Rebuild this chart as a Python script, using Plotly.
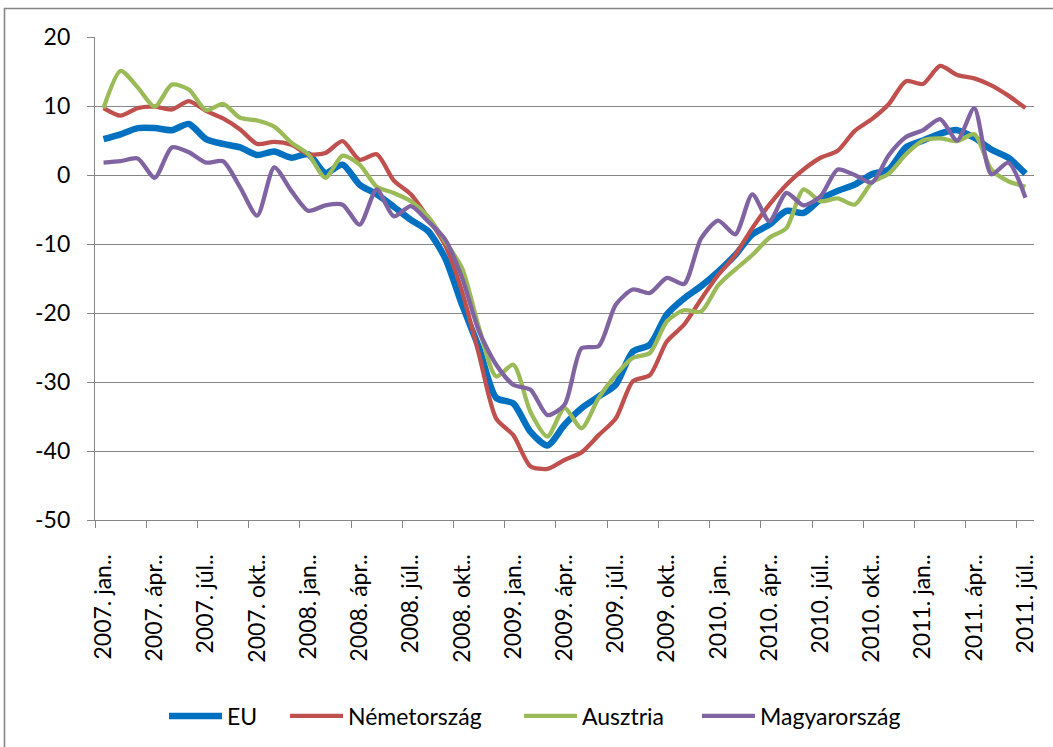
import plotly.graph_objects as go

years = ["2007", "2008", "2009", "2010", "2011"]
month_names = ["jan", "febr", "márc", "ápr", "máj", "jún", "júl", "aug", "szept", "okt", "nov", "dec"]
categories = [f"{y}. {m}.." for y in years for m in month_names][:55]

eu = [5.2, 5.9, 6.8, 6.8, 6.5, 7.4, 5.2, 4.5, 4.0, 2.9, 3.4, 2.5, 3.0, 0.3, 1.5, -1.4, -2.8, -4.6,
      -6.5, -8.1, -12.0, -18.8, -25.1, -32.3, -33.1, -37.2, -39.2, -36.2, -33.8, -32.1, -30.4,
      -25.6, -24.6, -20.2, -17.9, -16.1, -14.0, -11.6, -8.6, -7.2, -5.2, -5.5, -3.5, -2.3, -1.4,
      0.1, 0.8, 4.0, 5.0, 6.0, 6.5, 5.4, 3.7, 2.5, 0.2]
nemetorszag = [9.7, 8.6, 9.7, 9.9, 9.5, 10.7, 9.3, 8.2, 6.6, 4.5, 4.8, 4.4, 3.0, 3.2, 4.9, 2.2, 3.0,
               -0.8, -2.8, -6.2, -10.1, -16.9, -26.1, -35.3, -37.7, -42.2, -42.6, -41.3, -40.2,
               -37.7, -35.3, -29.9, -29.0, -24.1, -21.7, -18.0, -14.5, -11.6, -7.7, -4.3, -1.4,
               0.8, 2.5, 3.5, 6.4, 8.1, 10.3, 13.6, 13.2, 15.8, 14.5, 14.0, 13.0, 11.5, 9.7]
ausztria = [9.7, 15.1, 12.7, 9.9, 13.1, 12.4, 9.4, 10.3, 8.3, 7.9, 7.0, 4.7, 3.0, -0.4, 2.8, 1.5,
            -1.7, -2.6, -3.8, -6.0, -9.6, -13.5, -22.2, -29.2, -27.5, -34.3, -37.9, -33.8, -36.7,
            -32.3, -29.0, -26.5, -25.8, -21.2, -19.6, -19.8, -16.0, -13.7, -11.6, -9.1, -7.7,
            -2.1, -3.8, -3.4, -4.3, -1.1, 0.2, 3.0, 5.0, 5.3, 4.9, 5.9, 0.8, -0.9, -1.7]
magyarorszag = [1.8, 2.0, 2.4, -0.4, 4.0, 3.3, 1.8, 2.0, -1.8, -5.9, 1.1, -2.3, -5.2, -4.4, -4.3,
                -7.2, -2.1, -6.0, -4.5, -6.7, -9.3, -14.9, -22.7, -27.5, -30.4, -31.1, -34.8,
                -33.3, -25.1, -24.8, -18.8, -16.6, -17.1, -14.9, -15.8, -9.2, -6.6, -8.6, -2.8,
                -6.7, -2.6, -4.4, -3.1, 0.8, 0.0, -1.1, 2.9, 5.5, 6.5, 8.1, 5.0, 9.7, 0.1, 1.8, -3.3]

series_names = ["EU", "Németország", "Ausztria", "Magyarország"]
series_values = [eu, nemetorszag, ausztria, magyarorszag]
colors = ["#0070C0", "#C0504D", "#9BBB59", "#8064A2"]
widths = [6.5, 4.3, 4.3, 4.3]

y_tick_values = [-50, -40, -30, -20, -10, 0, 10, 20]
y_tick_labels = ["-50", "-40", "-30", "-20", "-10", "0", "10", "20"]

x_idx = list(range(len(categories)))
label_idx = x_idx[::3]
tick_labels = [categories[i] for i in label_idx]

FONT = "Lato, Carlito, 'Liberation Sans', sans-serif"
GRID = "#868686"

fig = go.Figure()
legend_ids = ["legend", "legend2", "legend3", "legend4"]
for name, vals, col, w, lg in zip(series_names, series_values, colors, widths, legend_ids):
    fig.add_trace(go.Scatter(
        x=x_idx, y=vals, name=name, mode="lines",
        line=dict(color=col, width=w, shape="spline", smoothing=0.7),
        legend=lg,
    ))

W, H = 1053, 747
L, R, T, B = 95, 19, 37, 227
pw, ph = W - L - R, H - T - B

def px_to_paper_x(px):
    return (px - L) / pw

def px_to_paper_y(py):
    return (H - B - py) / ph

legend_starts = [164, 285, 519, 697]
leg_common = dict(orientation="h", yanchor="middle", xanchor="left",
                  xref="container", yref="container",
                  font=dict(family=FONT, size=23, color="#000000"),
                  bgcolor="rgba(0,0,0,0)", itemwidth=53, borderwidth=0)
legends = {}
for lg, xs in zip(legend_ids, legend_starts):
    legends[lg] = dict(leg_common, x=xs / W, y=1 - 716 / H)

fx0, fx1 = px_to_paper_x(4.5), px_to_paper_x(W + 5)
fy_top, fy_bot = px_to_paper_y(8.5), px_to_paper_y(H + 5)
frame_path = f"M {fx0},{fy_bot} L {fx0},{fy_top} L {fx1},{fy_top}"

fig.update_layout(
    width=W, height=H,
    margin=dict(l=L, r=R, t=T, b=B, autoexpand=False),
    paper_bgcolor="white", plot_bgcolor="white",
    font=dict(family=FONT, size=23, color="#000000"),
    showlegend=True,
    **legends,
    xaxis=dict(
        range=[-0.5, len(categories) - 0.5],
        tickmode="array", tickvals=label_idx, ticktext=tick_labels,
        tickangle=-90, ticks="", showgrid=False, zeroline=False,
        showline=True, linecolor=GRID, linewidth=1,
        ticklabelstandoff=24, automargin=False,
        tickfont=dict(family=FONT, size=23, color="#000000"),
        minor=dict(tickmode="array", tickvals=[i - 0.5 for i in label_idx],
                   ticks="outside", ticklen=7, tickwidth=1, tickcolor=GRID, showgrid=False),
    ),
    yaxis=dict(
        range=[-50, 20], tickmode="array", tickvals=y_tick_values, ticktext=y_tick_labels,
        showgrid=True, gridcolor=GRID, gridwidth=1.2, zeroline=False,
        showline=True, linecolor=GRID, linewidth=1.2,
        ticks="outside", ticklen=7, tickwidth=1, tickcolor=GRID,
        ticklabelstandoff=12, automargin=False,
        tickfont=dict(family=FONT, size=23, color="#000000"),
    ),
    shapes=[
        dict(type="path", xref="paper", yref="paper", path=frame_path,
             line=dict(color=GRID, width=1.6), layer="above"),
    ],
)

fig.write_html("out.html", config={"displayModeBar": False},
               post_script="document.body.style.margin='0';document.body.style.padding='0';")
